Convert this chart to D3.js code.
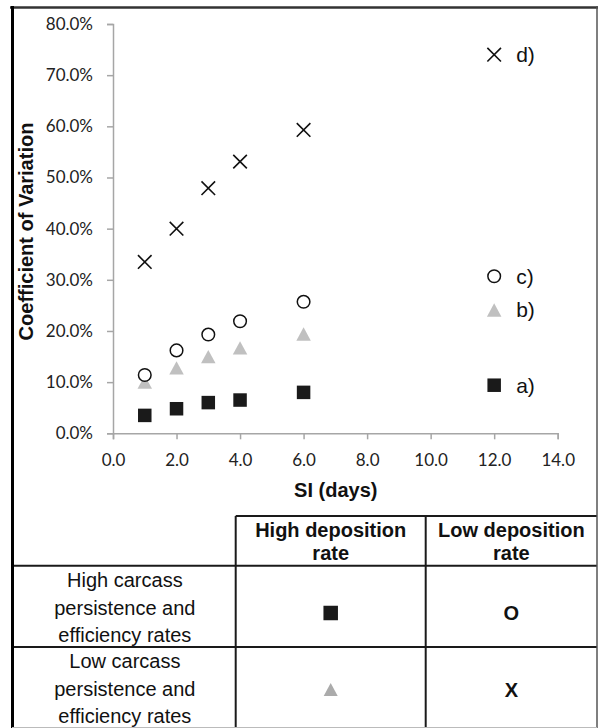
<!DOCTYPE html>
<html>
<head>
<meta charset="utf-8">
<script src="https://cdn.jsdelivr.net/npm/d3@7"></script>
<style>
  html, body { margin: 0; padding: 0; background: #fff; }
  svg { display: block; }
</style>
</head>
<body>
<svg id="chart" width="599" height="728"></svg>
<script>
// ---------------- DATA ----------------
const xValues = [1, 2, 3, 4, 6];                       // SI (days)
const seriesA = [3.5, 4.8, 6.0, 6.5, 8.0];             // a) squares (%)
const seriesB = [10.0, 12.8, 15.0, 16.7, 19.4];        // b) triangles (%)
const seriesC = [11.4, 16.2, 19.3, 21.9, 25.7];        // c) circles (%)
const seriesD = [33.5, 40.0, 47.9, 53.1, 59.3];        // d) crosses (%)
const labelNames = ["a)", "b)", "c)", "d)"];
const labelX = [12, 12, 12, 12];
const labelValues = [9.4, 24.1, 30.7, 74.0];
const yTicks = [0, 10, 20, 30, 40, 50, 60, 70, 80];
const xTicks = [0, 2, 4, 6, 8, 10, 12, 14];
const colHeaders = [["High deposition", "rate"], ["Low deposition", "rate"]];
const rowHeaders = [["High carcass", "persistence and", "efficiency rates"],
                    ["Low carcass", "persistence and", "efficiency rates"]];
const cellSymbols = [["square", "O"], ["triangle", "X"]];

// ---------------- DRAW ----------------
const svg = d3.select("#chart");
const tickFont = "Lato, 'Open Sans', sans-serif";
const arial = "'Liberation Sans', Arial, sans-serif";

const x = d3.scaleLinear().domain([0, 14]).range([113, 557.7]);
const y = d3.scaleLinear().domain([0, 80]).range([433.3, 24]);

// axes
const yAxis = d3.axisLeft(y).tickValues(yTicks).tickSize(6).tickPadding(14)
  .tickFormat(d => d3.format(".1f")(d) + "%");
const xAxis = d3.axisBottom(x).tickValues(xTicks).tickSize(6).tickPadding(15)
  .tickFormat(d3.format(".1f"));

const gy = svg.append("g").attr("transform", `translate(${x(0)},0)`).call(yAxis);
const gx = svg.append("g").attr("transform", `translate(0,${y(0)})`).call(xAxis);
[gx, gy].forEach(g => {
  g.select(".domain").attr("stroke", "#a6a6a6").attr("stroke-width", 1.5);
  g.selectAll(".tick line").attr("stroke", "#a6a6a6").attr("stroke-width", 1.5);
  g.selectAll(".tick text").attr("fill", "#222").style("font-family", tickFont).style("font-size", "17px");
});

// axis titles
svg.append("text")
  .attr("transform", `translate(33,${231.5}) rotate(-90)`)
  .attr("text-anchor", "middle")
  .style("font-family", arial).style("font-weight", "bold").style("font-size", "20px")
  .attr("fill", "#111")
  .text("Coefficient of Variation");
svg.append("text")
  .attr("x", 335.8).attr("y", 496.5)
  .attr("text-anchor", "middle")
  .style("font-family", arial).style("font-weight", "bold").style("font-size", "20px")
  .attr("fill", "#111")
  .text("SI (days)");

// marker drawing helpers
function drawMarker(g, type, cx, cy, opts = {}) {
  if (type === "square") {
    const s = opts.size || 13.5;
    g.append("rect").attr("x", cx - s / 2).attr("y", cy - s / 2).attr("width", s).attr("height", s)
      .attr("fill", "#1a1a1a");
  } else if (type === "triangle") {
    const w = opts.size || 14.5, h = w * 0.92;
    g.append("path").attr("d", `M${cx},${cy - h / 2}L${cx + w / 2},${cy + h / 2}L${cx - w / 2},${cy + h / 2}Z`)
      .attr("fill", opts.color || "#c0c0c0");
  } else if (type === "circle") {
    g.append("circle").attr("cx", cx).attr("cy", cy).attr("r", 6.3)
      .attr("fill", "#fff").attr("stroke", "#111").attr("stroke-width", 1.5);
  } else if (type === "cross") {
    const r = 6.8;
    g.append("path").attr("d", `M${cx - r},${cy - r}L${cx + r},${cy + r}M${cx - r},${cy + r}L${cx + r},${cy - r}`)
      .attr("stroke", "#111").attr("stroke-width", 1.6).attr("fill", "none");
  }
}

const series = [
  { type: "square", values: seriesA },
  { type: "triangle", values: seriesB },
  { type: "circle", values: seriesC },
  { type: "cross", values: seriesD }
];
const marks = svg.append("g");
series.forEach(s => {
  s.values.forEach((v, i) => drawMarker(marks, s.type, x(xValues[i]), y(v)));
});

// labelled points at x = 12
const labelTypes = ["square", "triangle", "circle", "cross"];
labelNames.forEach((name, i) => {
  const cx = x(labelX[i]), cy = y(labelValues[i]);
  drawMarker(marks, labelTypes[i], cx, cy);
  svg.append("text").attr("x", cx + 22).attr("y", cy).attr("dy", "0.35em")
    .style("font-family", arial).style("font-size", "21px").attr("fill", "#111")
    .text(name);
});

// ---------------- TABLE ----------------
const colX = [12, 235.7, 425.7, 597];
const rowY = [516, 565.7, 647, 728];
const lineColor = "#1a1a1a";
const tg = svg.append("g");
// header top line
tg.append("line").attr("x1", colX[1]).attr("x2", colX[3]).attr("y1", rowY[0]).attr("y2", rowY[0])
  .attr("stroke", lineColor).attr("stroke-width", 2);
// row lines
[rowY[1], rowY[2]].forEach(yy => {
  tg.append("line").attr("x1", colX[0]).attr("x2", colX[3]).attr("y1", yy).attr("y2", yy)
    .attr("stroke", lineColor).attr("stroke-width", 2);
});
// vertical lines
[colX[1], colX[2]].forEach(xx => {
  tg.append("line").attr("x1", xx).attr("x2", xx).attr("y1", rowY[0]).attr("y2", rowY[3])
    .attr("stroke", lineColor).attr("stroke-width", 2);
});
// column headers
colHeaders.forEach((lines, c) => {
  const cx = (colX[c + 1] + colX[c + 2]) / 2;
  lines.forEach((t, k) => {
    tg.append("text").attr("x", cx).attr("y", 530 + k * 23.3).attr("dy", "0.35em")
      .attr("text-anchor", "middle")
      .style("font-family", arial).style("font-weight", "bold").style("font-size", "20px")
      .attr("fill", "#111").text(t);
  });
});
// row headers
const rowLineStart = [580, 661];
rowHeaders.forEach((lines, r) => {
  const cx = (colX[0] + colX[1]) / 2 + 1;
  lines.forEach((t, k) => {
    tg.append("text").attr("x", cx).attr("y", rowLineStart[r] + k * 27.5).attr("dy", "0.35em")
      .attr("text-anchor", "middle")
      .style("font-family", arial).style("font-size", "20px")
      .attr("fill", "#111").text(t);
  });
});
// cell symbols
const cellCenters = [613, 689.5];
cellSymbols.forEach((row, r) => {
  row.forEach((sym, c) => {
    const cx = (colX[c + 1] + colX[c + 2]) / 2;
    const cy = cellCenters[r];
    if (sym === "square") {
      drawMarker(tg, "square", cx, cy, { size: 14.5 });
    } else if (sym === "triangle") {
      drawMarker(tg, "triangle", cx, cy, { size: 14, color: "#ababab" });
    } else {
      tg.append("text").attr("x", cx).attr("y", cy).attr("dy", "0.36em")
        .attr("text-anchor", "middle")
        .style("font-family", arial).style("font-weight", "bold").style("font-size", "20px")
        .attr("fill", "#111").text(sym);
    }
  });
});

// ---------------- OUTER BORDER ----------------
svg.append("line").attr("x1", 10).attr("x2", 598).attr("y1", 7.5).attr("y2", 7.5)
  .attr("stroke", "#333").attr("stroke-width", 2.5);
svg.append("line").attr("x1", 12.5).attr("x2", 12.5).attr("y1", 6).attr("y2", 728)
  .attr("stroke", "#000").attr("stroke-width", 3);
svg.append("line").attr("x1", 597).attr("x2", 597).attr("y1", 6).attr("y2", 728)
  .attr("stroke", "#555").attr("stroke-width", 1.5);
svg.append("line").attr("x1", 12).attr("x2", 597).attr("y1", 727.5).attr("y2", 727.5)
  .attr("stroke", "#bbb").attr("stroke-width", 1);
</script>
</body>
</html>
